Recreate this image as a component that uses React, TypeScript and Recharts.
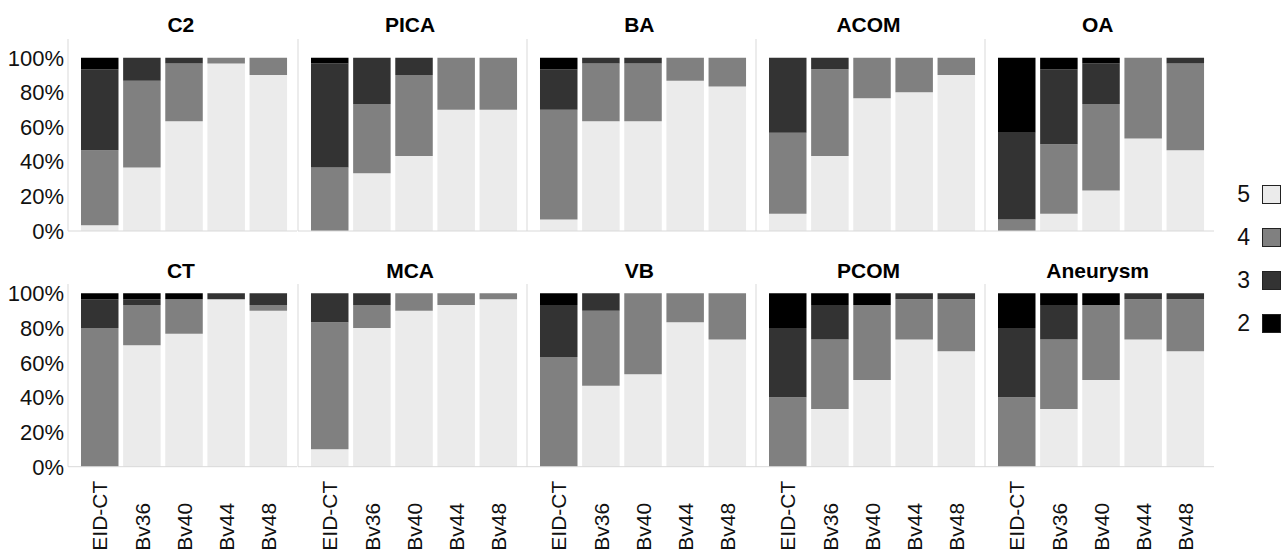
import React from 'react';
import { BarChart, Bar, XAxis, YAxis, Legend } from 'recharts';

// ---- data (counts of ratings per reader/kernel, 30 cases each) ----
const panelNames = ['C2', 'PICA', 'BA', 'ACOM', 'OA', 'CT', 'MCA', 'VB', 'PCOM', 'Aneurysm'];
const groups = ['EID-CT', 'Bv36', 'Bv40', 'Bv44', 'Bv48'];
const scoreNames = ['5', '4', '3', '2'];
const scoreColors = ['#ebebeb', '#808080', '#333333', '#000000'];
const yTicks = [0, 0.2, 0.4, 0.6, 0.8, 1];

const score5 = [
  [1, 11, 19, 29, 27],
  [0, 10, 13, 21, 21],
  [2, 19, 19, 26, 25],
  [3, 13, 23, 24, 27],
  [0, 3, 7, 16, 14],
  [0, 21, 23, 29, 27],
  [3, 24, 27, 28, 29],
  [0, 14, 16, 25, 22],
  [0, 10, 15, 22, 20],
  [0, 10, 15, 22, 20],
];
const score4 = [
  [13, 15, 10, 1, 3],
  [11, 12, 14, 9, 9],
  [19, 10, 10, 4, 5],
  [14, 15, 7, 6, 3],
  [2, 12, 15, 14, 15],
  [24, 7, 6, 0, 1],
  [22, 4, 3, 2, 1],
  [19, 13, 14, 5, 8],
  [12, 12, 13, 7, 9],
  [12, 12, 13, 7, 9],
];
const score3 = [
  [14, 4, 1, 0, 0],
  [18, 8, 3, 0, 0],
  [7, 1, 1, 0, 0],
  [13, 2, 0, 0, 0],
  [15, 13, 7, 0, 1],
  [5, 1, 0, 1, 2],
  [5, 2, 0, 0, 0],
  [9, 3, 0, 0, 0],
  [12, 6, 0, 1, 1],
  [12, 6, 0, 1, 1],
];
const score2 = [
  [2, 0, 0, 0, 0],
  [1, 0, 0, 0, 0],
  [2, 0, 0, 0, 0],
  [0, 0, 0, 0, 0],
  [13, 2, 1, 0, 0],
  [1, 1, 1, 0, 0],
  [0, 0, 0, 0, 0],
  [2, 0, 0, 0, 0],
  [6, 2, 2, 0, 0],
  [6, 2, 2, 0, 0],
];

// ---- layout ----
const FONT = '"Liberation Sans", Arial, Helvetica, sans-serif';
const PANEL_X0 = 68.3;
const PANEL_W = 229.2;
const AXIS_W = 68;
const ROWS = [
  { top: 0, marginTop: 39, plotH: 192, xAxisH: 2, marginBottom: 14, domainMax: 1.108, titleY: 25 },
  { top: 240, marginTop: 44, plotH: 182.7, xAxisH: 86, marginBottom: 0, domainMax: 1.054, titleY: 271 },
];

function buildRows(p: number) {
  return groups.map((g, i) => {
    const c = [score5[p][i], score4[p][i], score3[p][i], score2[p][i]];
    const t = c[0] + c[1] + c[2] + c[3];
    return { name: g, s5: c[0] / t, s4: c[1] / t, s3: c[2] / t, s2: c[3] / t };
  });
}

const XTick = (props: any) => {
  const { x, y, payload } = props;
  const ty = y + 84;
  return (
    <text
      x={x}
      y={ty}
      transform={`rotate(-90 ${x} ${ty})`}
      dy="0.35em"
      textAnchor="start"
      fontSize={21}
      fill="#111"
      fontFamily={FONT}
    >
      {payload.value}
    </text>
  );
};

const LegendContent = (props: any) => {
  const items = [...(props.payload || [])].sort(
    (a: any, b: any) => scoreNames.indexOf(String(a.value)) - scoreNames.indexOf(String(b.value))
  );
  return (
    <div style={{ fontFamily: FONT }}>
      {items.map((it: any) => (
        <div key={it.value} style={{ height: 43, display: 'flex', alignItems: 'center' }}>
          <span style={{ width: 22, textAlign: 'right', fontSize: 23, color: '#111', marginRight: 12 }}>
            {it.value}
          </span>
          <span
            style={{
              width: 17,
              height: 17,
              background: it.color,
              border: '1px solid #222',
              display: 'inline-block',
            }}
          />
        </div>
      ))}
    </div>
  );
};

function Panel({ p }: { p: number }) {
  const rowIdx = p < 5 ? 0 : 1;
  const col = p % 5;
  const row = ROWS[rowIdx];
  const data = buildRows(p);
  const left = PANEL_X0 + col * PANEL_W - AXIS_W;
  const width = AXIS_W + PANEL_W;
  const height = row.marginTop + row.plotH + row.xAxisH + row.marginBottom;
  const keys = ['s5', 's4', 's3', 's2'];
  return (
    <>
      <div
        style={{
          position: 'absolute',
          left: PANEL_X0 + col * PANEL_W + PANEL_W / 2 - 2 - 100,
          top: row.titleY - 12,
          width: 200,
          lineHeight: '24px',
          textAlign: 'center',
          fontWeight: 'bold',
          fontSize: 21,
          color: '#000',
          fontFamily: FONT,
        }}
      >
        {panelNames[p]}
      </div>
      <div style={{ position: 'absolute', left, top: row.top }}>
        <BarChart
          width={width}
          height={height}
          data={data}
          margin={{ top: row.marginTop, right: 0, left: 0, bottom: row.marginBottom }}
          barSize={37.5}
        >
          <XAxis
            dataKey="name"
            type="category"
            padding={{ left: 11, right: 7.5 }}
            axisLine={{ stroke: '#d9d9d9' }}
            tickLine={false}
            tickSize={0}
            tickMargin={0}
            height={row.xAxisH}
            interval={0}
            tick={rowIdx === 0 ? false : <XTick />}
          />
          <YAxis
            type="number"
            domain={[0, row.domainMax]}
            ticks={yTicks}
            interval={0}
            width={AXIS_W}
            axisLine={{ stroke: '#d9d9d9' }}
            tickLine={false}
            tickSize={0}
            tickMargin={4}
            tickFormatter={(v: number) => `${Math.round(v * 100)}%`}
            tick={col === 0 ? { fontSize: 22, fill: '#111', fontFamily: FONT } : false}
          />
          {keys.map((k, i) => (
            <Bar
              key={k}
              dataKey={k}
              name={scoreNames[i]}
              stackId="a"
              fill={scoreColors[i]}
              isAnimationActive={false}
            />
          ))}
          {p === 4 && (
            <Legend
              layout="vertical"
              align="center"
              verticalAlign="middle"
              content={<LegendContent />}
              wrapperStyle={{ left: 1228 - left, top: 172.5, width: 60 }}
            />
          )}
        </BarChart>
      </div>
    </>
  );
}

export default function App() {
  return (
    <div
      style={{
        position: 'absolute',
        left: 0,
        top: 0,
        width: 1284,
        height: 553,
        background: '#fff',
        fontFamily: FONT,
        overflow: 'hidden',
      }}
    >
      {panelNames.map((_, p) => (
        <Panel key={p} p={p} />
      ))}
    </div>
  );
}
